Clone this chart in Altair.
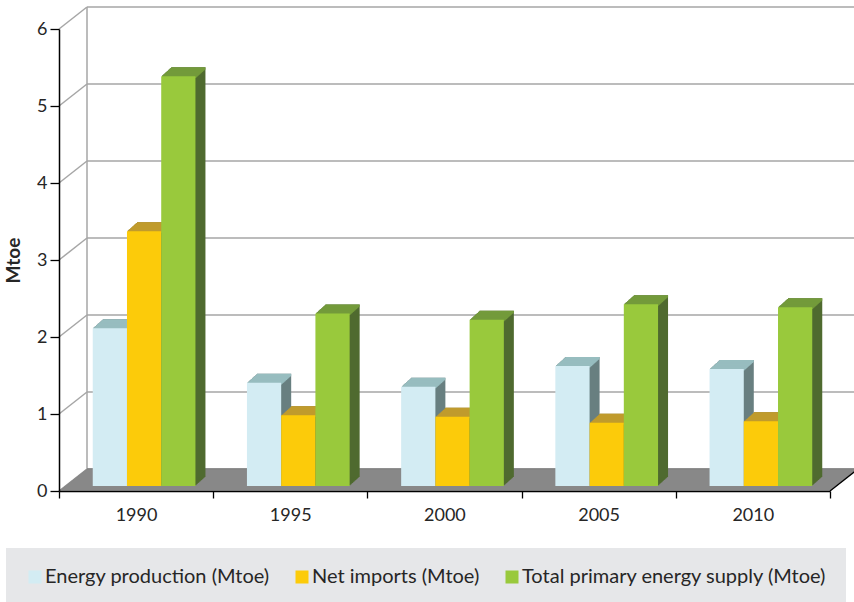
import json

import altair as alt
import pandas as pd

# ---- data -------------------------------------------------------------
years = ["1990", "1995", "2000", "2005", "2010"]
series = [
    "Energy production (Mtoe)",
    "Net imports (Mtoe)",
    "Total primary energy supply (Mtoe)",
]
energy_production = [2.05, 1.34, 1.29, 1.56, 1.52]
net_imports = [3.31, 0.92, 0.90, 0.82, 0.84]
total_supply = [5.32, 2.24, 2.16, 2.36, 2.32]
y_ticks = [0, 1, 2, 3, 4, 5, 6]

# ---- colours: front face, top face, side face of each series ------------
front_colors = ["#D3ECF3", "#FCCB0A", "#99C93C"]
top_colors = ["#97BDBF", "#C09B2D", "#739A3B"]
side_colors = ["#687F80", "#8C7214", "#4F6A2F"]

TEXT = "#262626"
FONT = "Lato"

rows = []
for si, (name, vals) in enumerate(zip(series, [energy_production, net_imports, total_supply])):
    for gi, (yr, v) in enumerate(zip(years, vals)):
        rows.append({"year": yr, "series": name, "value": v, "gi": gi, "si": si})
df = pd.DataFrame(rows)

# ---- pseudo-3D geometry (pixels) --------------------------------------
BAR_W = 0.222            # bar width as a fraction of one year slot
FACE_DX, FACE_DY = 8, -5  # bars stand a little behind the floor's front edge
DEPTH_DX, DEPTH_DY = 10, -9
STEPS = 12
FLOOR_DX, FLOOR_DY = 28, -22
FLOOR_STEPS = 22

x_scale = alt.Scale(domain=[0, 5], nice=False, zero=False)
y_scale = alt.Scale(domain=[0, 6], nice=False)

label_expr = (
    f"datum.value < {len(years)} ? {json.dumps(years)}[datum.value] : ''"
)
x_axis = alt.Axis(
    values=list(range(len(years) + 1)),
    labelExpr=label_expr,
    labelOffset=77,
    labelFlush=False,
    labelOverlap=False,
    labelFont=FONT,
    labelFontSize=18,
    labelColor=TEXT,
    labelPadding=8,
    tickSize=7,
    tickColor="#000000",
    tickWidth=1.3,
    domainColor="#000000",
    domainWidth=1.5,
    grid=False,
    title=None,
    zindex=1,
)
y_axis = alt.Axis(
    values=y_ticks,
    format="d",
    labelFont=FONT,
    labelFontSize=18,
    labelColor=TEXT,
    labelPadding=3,
    tickSize=9,
    tickColor="#000000",
    tickWidth=1.3,
    domainColor="#000000",
    domainWidth=1.5,
    grid=False,
    title="Mtoe",
    titleFont=FONT,
    titleFontSize=19,
    titleFontWeight="bold",
    titleColor=TEXT,
    titlePadding=13,
    zindex=1,
)

x_enc = alt.X("x0:Q", scale=x_scale, axis=x_axis)
y_enc = alt.Y("value:Q", scale=y_scale, axis=y_axis)

bars = alt.Chart(df).transform_calculate(
    x0=f"datum.gi + 0.5 + (datum.si - 1.5) * {BAR_W}",
    x1=f"datum.gi + 0.5 + (datum.si - 0.5) * {BAR_W}",
    cap="datum.value - 0.03",
)

one_row = pd.DataFrame({"n": [0]})
ticks_df = pd.DataFrame({"v": y_ticks})

layers = []

# back wall: horizontal grid lines
layers.append(
    alt.Chart(ticks_df)
    .mark_rule(color="#A6A6A6", strokeWidth=1.5,
               xOffset=FLOOR_DX, x2Offset=FLOOR_DX, yOffset=FLOOR_DY)
    .encode(x=alt.datum(0, scale=x_scale), x2=alt.datum(5),
            y=alt.Y("v:Q", scale=y_scale))
)
# side wall: slanted lines running back from each y tick
layers.append(
    alt.Chart(ticks_df)
    .mark_rule(color="#A6A6A6", strokeWidth=1.5,
               x2Offset=FLOOR_DX, y2Offset=FLOOR_DY)
    .encode(x=alt.datum(0), x2=alt.datum(0),
            y=alt.Y("v:Q", scale=y_scale), y2="v:Q")
)
# back wall: left vertical edge
layers.append(
    alt.Chart(one_row)
    .mark_rule(color="#A6A6A6", strokeWidth=1.5,
               xOffset=FLOOR_DX, yOffset=FLOOR_DY, y2Offset=FLOOR_DY)
    .encode(x=alt.datum(0), y=alt.datum(0), y2=alt.datum(6))
)
# floor: a horizontal edge swept back in depth
for k in range(1, FLOOR_STEPS + 1):
    dx = FLOOR_DX * k / FLOOR_STEPS
    dy = FLOOR_DY * k / FLOOR_STEPS
    layers.append(
        alt.Chart(one_row)
        .mark_rule(color="#808080", strokeWidth=1.6,
                   xOffset=dx, x2Offset=dx, yOffset=dy)
        .encode(x=alt.datum(0), x2=alt.datum(5), y=alt.datum(0))
    )
# floor: right edge
layers.append(
    alt.Chart(one_row)
    .mark_rule(color="#000000", strokeWidth=1.3,
               x2Offset=FLOOR_DX, y2Offset=FLOOR_DY)
    .encode(x=alt.datum(5), x2=alt.datum(5), y=alt.datum(0), y2=alt.datum(0))
)

# bar sides: the whole bar swept back in depth
for k in range(1, STEPS + 1):
    dx = FACE_DX + DEPTH_DX * k / STEPS
    dy = FACE_DY + DEPTH_DY * k / STEPS
    layers.append(
        bars.mark_rect(xOffset=dx, x2Offset=dx, yOffset=dy, y2Offset=dy)
        .encode(
            x=x_enc, x2="x1:Q", y=y_enc, y2=alt.datum(0),
            color=alt.Color("series:N", legend=None,
                            scale=alt.Scale(domain=series, range=side_colors)),
        )
    )
# bar tops: the top edge swept back in depth
for k in range(1, STEPS + 1):
    dx = FACE_DX + DEPTH_DX * k / STEPS
    dy = FACE_DY + DEPTH_DY * k / STEPS
    layers.append(
        bars.mark_rect(xOffset=dx, x2Offset=dx, yOffset=dy, y2Offset=dy)
        .encode(
            x=x_enc, x2="x1:Q", y=y_enc, y2="cap:Q",
            color=alt.Color("series:N", legend=None,
                            scale=alt.Scale(domain=series, range=top_colors)),
        )
    )
# bar fronts
legend = alt.Legend(
    title=None,
    orient="none",
    legendX=-53,
    legendY=519,
    direction="horizontal",
    symbolType="square",
    symbolSize=169,
    symbolStrokeWidth=0,
    labelFont=FONT,
    labelFontSize=20,
    labelColor=TEXT,
    labelOffset=0,
    columnPadding=22,
    padding=19,
    fillColor="#E6E7E9",
    labelLimit=500,
)
layers.append(
    bars.mark_rect(xOffset=FACE_DX, x2Offset=FACE_DX, yOffset=FACE_DY, y2Offset=FACE_DY)
    .encode(
        x=x_enc, x2="x1:Q", y=y_enc, y2=alt.datum(0),
        color=alt.Color("series:N", legend=legend, sort=series,
                        scale=alt.Scale(domain=series, range=front_colors)),
    )
)

chart = (
    alt.layer(*layers)
    .resolve_scale(color="independent")
    .properties(
        width=771,
        height=462,
        autosize=alt.AutoSizeParams(type="none"),
        padding={"left": 59, "top": 29, "right": 24, "bottom": 111},
        background="#FFFFFF",
    )
    .configure_view(stroke=None)
)

chart.save("out.html", embed_options={"renderer": "svg", "actions": False})
